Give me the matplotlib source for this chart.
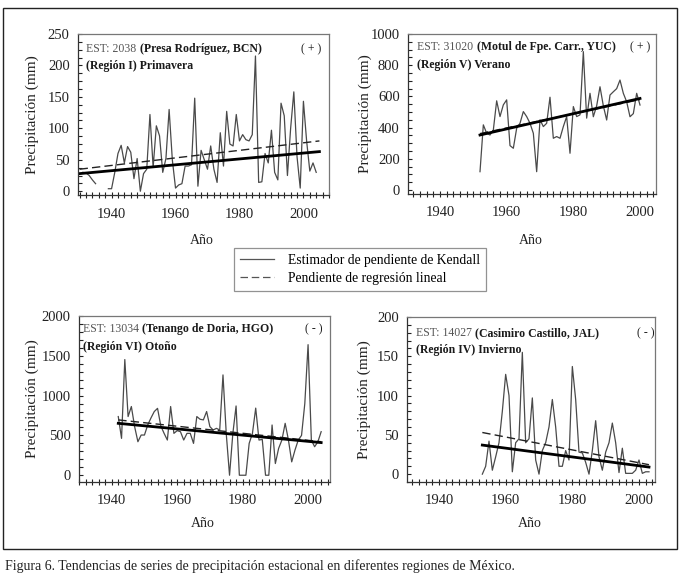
import numpy as np
import matplotlib
matplotlib.use('Agg')
import matplotlib.pyplot as plt
from matplotlib.lines import Line2D
from matplotlib.patches import Rectangle
from matplotlib.ticker import MultipleLocator

plt.rcParams['font.family'] = ['Liberation Serif', 'DejaVu Serif']

# Panel 1 - EST 2038 Presa Rodriguez, primavera (gap 1936-1938)
p1_years = np.arange(1931, 2005)
p1_vals = [30, 29, 25, 18, 12, np.nan, np.nan, np.nan,
           4, 4, 30, 60, 73, 45, 71, 62, 20, 52, 0, 28, 35, 122, 38, 104, 88, 30,
           52, 130, 50, 5, 10, 12, 40, 40, 42, 148, 8, 65, 50, 35, 72, 35, 14, 93,
           40, 127, 75, 72, 122, 80, 90, 82, 80, 90, 215, 14, 15, 60, 45, 97, 30,
           18, 140, 120, 25, 100, 158, 55, 5, 143, 80, 32, 45, 30]
p1_trend_years = [1930, 2005]
p1_kendall = [28, 63]
p1_regres = [35, 80]

# Panel 2 - EST 31020 Motul, verano
p2_years = np.arange(1952, 2001)
p2_vals = [118, 418, 364, 353, 385, 572, 471, 546, 578, 285, 268, 396, 428, 503,
           471, 428, 364, 118, 450, 407, 428, 595, 332, 343, 332, 407, 471, 236,
           535, 471, 482, 887, 461, 620, 470, 540, 662, 540, 449, 609, 630, 650,
           705, 620, 566, 470, 490, 620, 545]
p2_trend_years = [1952, 2000]
p2_kendall = [353, 587]
p2_regres = [362, 580]

# Panel 3 - EST 13034 Tenango de Doria, otono
p3_years = np.arange(1942, 2005)
p3_vals = [737, 463, 1453, 737, 863, 610, 421, 505, 505, 631, 720, 800, 840, 620,
           526, 442, 863, 526, 560, 547, 442, 526, 526, 400, 737, 703, 695, 800,
           610, 568, 589, 568, 1260, 520, 0, 520, 870, 0, 0, 0, 400, 526, 843,
           442, 450, 0, 0, 631, 147, 337, 442, 652, 442, 168, 316, 442, 500, 900,
           1640, 442, 358, 420, 547]
p3_trend_years = [1942, 2004]
p3_kendall = [652, 410]
p3_regres = [695, 421]

# Panel 4 - EST 14027 Casimiro Castillo, invierno
p4_years = np.arange(1953, 2004)
p4_vals = [0, 10, 42, 5, 22, 40, 80, 127, 100, 3, 40, 45, 155, 40, 45, 97, 18, 0,
           30, 40, 60, 95, 60, 10, 10, 30, 18, 137, 95, 28, 27, 15, 0, 30, 68, 22,
           5, 28, 40, 65, 40, 2, 33, 1, 1, 1, 5, 18, 1, 3, 3]
p4_trend_years = [1953, 2003]
p4_kendall = [37, 9]
p4_regres = [53, 12]

W, H = 681, 579
fig = plt.figure(figsize=(W / 100, H / 100), dpi=100)


def add_ax(l, r, t, b):
    return fig.add_axes([l / W, 1 - b / H, (r - l) / W, (b - t) / H])


panels = [
    dict(box=(78, 329, 34, 195), xlim=(1929.5, 2008), ylim=(-6, 250), ymaj=50, ymin=12.5,
         years=p1_years, vals=p1_vals, ty=p1_trend_years, k=p1_kendall, r=p1_regres,
         est='EST: 2038', name='(Presa Rodríguez, BCN)', reg='(Región I) Primavera',
         sign='( + )', tx=0.032, ty1=0.905, ty2=0.80, sx=0.928, ylx=-0.183, xly=-0.28),
    dict(box=(408, 656, 34, 194), xlim=(1930.4, 2004.8), ylim=(-25, 1000), ymaj=200, ymin=50,
         years=p2_years, vals=p2_vals, ty=p2_trend_years, k=p2_kendall, r=p2_regres,
         est='EST: 31020', name='(Motul de Fpe. Carr., YUC)', reg='(Región V) Verano',
         sign='( + )', tx=0.036, ty1=0.917, ty2=0.806, sx=0.935, ylx=-0.173, xly=-0.29),
    dict(box=(79, 330, 316, 482), xlim=(1930, 2006.7), ylim=(-85, 2000), ymaj=500, ymin=100,
         years=p3_years, vals=p3_vals, ty=p3_trend_years, k=p3_kendall, r=p3_regres,
         est='EST: 13034', name='(Tenango de Doria, HGO)', reg='(Región VI) Otoño',
         sign='( - )', tx=0.015, ty1=0.92, ty2=0.812, sx=0.936, ylx=-0.187, xly=-0.25),
    dict(box=(407, 655, 317, 482), xlim=(1930.4, 2004.8), ylim=(-10, 200), ymaj=50, ymin=10,
         years=p4_years, vals=p4_vals, ty=p4_trend_years, k=p4_kendall, r=p4_regres,
         est='EST: 14027', name='(Casimiro Castillo, JAL)', reg='(Región IV) Invierno',
         sign='( - )', tx=0.036, ty1=0.903, ty2=0.80, sx=0.964, ylx=-0.173, xly=-0.25),
]

for p in panels:
    ax = add_ax(*p['box'])
    ax.plot(p['years'], p['vals'], color='#4a4a4a', lw=0.9)
    ax.plot(p['ty'], p['r'], color='#222222', lw=1.0, dashes=(6, 3))
    ax.plot(p['ty'], p['k'], color='black', lw=2.0)
    ax.set_xlim(*p['xlim'])
    ax.set_ylim(*p['ylim'])
    ax.xaxis.set_major_locator(MultipleLocator(20))
    ax.xaxis.set_minor_locator(MultipleLocator(2))
    ax.yaxis.set_major_locator(MultipleLocator(p['ymaj']))
    ax.yaxis.set_minor_locator(MultipleLocator(p['ymin']))
    ax.tick_params(axis='x', which='both', direction='inout', length=4, width=0.8,
                   labelsize=10.5, pad=7, colors='#222222')
    ax.tick_params(axis='y', which='both', direction='in', length=3, width=0.8,
                   labelsize=10.5, pad=6, colors='#222222')
    for s in ['top', 'right']:
        ax.spines[s].set_color('#777777')
    for s in ['left', 'bottom']:
        ax.spines[s].set_color('#333333')
    for s in ax.spines.values():
        s.set_linewidth(0.9)
    ax.set_ylabel('Precipitación (mm)', fontsize=11, color='#222222', va='center')
    ax.yaxis.set_label_coords(p['ylx'], 0.5)
    ax.set_xlabel('Año', fontsize=10, color='#222222', va='center')
    ax.xaxis.set_label_coords(0.494, p['xly'])
    t1 = ax.text(p['tx'], p['ty1'], p['est'], transform=ax.transAxes, fontsize=8.5,
                 color='#555555', va='center', ha='left')
    ax.annotate(p['name'], xy=(1, 0.5), xycoords=t1, xytext=(2.5, 0), textcoords='offset points',
                fontsize=8.5, weight='bold', color='#1a1a1a', va='center', ha='left')
    ax.text(p['tx'], p['ty2'], p['reg'], transform=ax.transAxes, fontsize=8.5,
            weight='bold', color='#1a1a1a', va='center', ha='left')
    ax.text(p['sx'], p['ty1'], p['sign'], transform=ax.transAxes, fontsize=8.5,
            color='#1a1a1a', va='center', ha='center')

handles = [Line2D([], [], color='#555555', lw=0.9),
           Line2D([], [], color='#555555', lw=0.9, dashes=(6, 3))]
labels = ['Estimador de pendiente de Kendall', 'Pendiente de regresión lineal']
leg = fig.legend(handles, labels, loc='upper left', bbox_to_anchor=(234 / W, 1 - 248 / H),
                 frameon=True, fancybox=False, edgecolor='#777777', fontsize=9.8,
                 handlelength=2.5, handletextpad=1.0, borderpad=0.45, labelspacing=0.35,
                 borderaxespad=0)
leg.get_frame().set_linewidth(0.9)

fig.add_artist(Rectangle((3 / W, 1 - 549 / H), 674 / W, 541 / H, transform=fig.transFigure,
                         fill=False, edgecolor='#222222', lw=1.0))
fig.text(5 / W, 1 - 566 / H,
         'Figura 6. Tendencias de series de precipitación estacional en diferentes regiones de México.',
         fontsize=10, color='#222222', va='center', ha='left')

fig.savefig('out.png', dpi=100)
